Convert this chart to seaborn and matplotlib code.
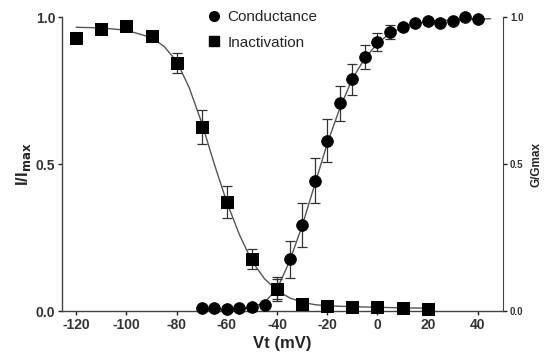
import matplotlib
matplotlib.use("Agg")
import matplotlib.pyplot as plt
import seaborn as sns
import pandas as pd
from matplotlib.lines import Line2D

# -----------------------------
# Data
# -----------------------------
inact_v = [-120, -110, -100, -90, -80, -70, -60, -50, -40, -30, -20, -10, 0, 10, 20]
inact_y = [0.93, 0.96, 0.97, 0.935, 0.843, 0.625, 0.372, 0.177, 0.075, 0.024, 0.017, 0.015, 0.013, 0.010, 0.008]
inact_err = [0, 0, 0, 0, 0.035, 0.058, 0.055, 0.033, 0.035, 0, 0, 0, 0, 0, 0]

cond_v = [-70, -65, -60, -55, -50, -45, -40, -35, -30, -25, -20, -15, -10, -5,
          0, 5, 10, 15, 20, 25, 30, 35, 40]
cond_y = [0.010, 0.012, 0.008, 0.010, 0.015, 0.020, 0.075, 0.177, 0.293, 0.444, 0.58,
          0.706, 0.788, 0.864, 0.915, 0.949, 0.966, 0.98, 0.986, 0.98, 0.986, 1.0, 0.993]
cond_err = [0, 0, 0, 0, 0, 0, 0.04, 0.063, 0.074, 0.075, 0.072, 0.06, 0.053, 0.041,
            0.032, 0.025, 0, 0, 0, 0, 0, 0, 0]

# fitted curves
inact_fit_v = [-120, -110, -100, -90, -85, -80, -75, -70, -65, -60, -55, -50, -45,
               -40, -35, -30, -25, -20, -10, 0, 10, 20]
inact_fit_y = [0.965, 0.963, 0.955, 0.93, 0.90, 0.85, 0.76, 0.64, 0.50, 0.37, 0.26,
               0.17, 0.11, 0.07, 0.045, 0.03, 0.022, 0.018, 0.015, 0.013, 0.011, 0.010]

cond_fit_v = [-70, -60, -55, -50, -45, -40, -35, -30, -25, -20, -15, -10, -5, 0, 5,
              10, 15, 20, 25, 30, 35, 40, 45]
cond_fit_y = [0.004, 0.005, 0.007, 0.012, 0.03, 0.075, 0.17, 0.29, 0.43, 0.57, 0.69,
              0.79, 0.86, 0.91, 0.945, 0.965, 0.977, 0.984, 0.988, 0.99, 0.992, 0.993, 0.994]

x_ticks = [-120, -100, -80, -60, -40, -20, 0, 20, 40]
y_ticks = [0.0, 0.5, 1.0]
y_ticklabels = ["0.0", "0.5", "1.0"]

# -----------------------------
# Plot
# -----------------------------
sns.set_style("ticks")
plt.rcParams["font.family"] = ["Liberation Sans", "DejaVu Sans"]
plt.rcParams["axes.unicode_minus"] = False

fig = plt.figure(figsize=(5.45, 3.58), dpi=100)
ax = fig.add_axes([0.114, 0.131, 0.809, 0.8215])

line_col = "#555555"
sns.lineplot(x=inact_fit_v, y=inact_fit_y, ax=ax, color=line_col, lw=1.0, sort=False)
sns.lineplot(x=cond_fit_v, y=cond_fit_y, ax=ax, color=line_col, lw=1.0, sort=False)

ax.errorbar(inact_v, inact_y, yerr=inact_err, fmt="none", ecolor="#333333",
            elinewidth=0.9, capsize=3.5, capthick=0.9, zorder=3)
ax.errorbar(cond_v, cond_y, yerr=cond_err, fmt="none", ecolor="#333333",
            elinewidth=0.9, capsize=3.5, capthick=0.9, zorder=3)

df_i = pd.DataFrame({"v": inact_v, "y": inact_y})
df_c = pd.DataFrame({"v": cond_v, "y": cond_y})
sns.scatterplot(data=df_i, x="v", y="y", ax=ax, marker="s", s=85, color="black",
                edgecolor="black", zorder=4, clip_on=False)
sns.scatterplot(data=df_c, x="v", y="y", ax=ax, marker="o", s=70, color="black",
                edgecolor="black", zorder=5, clip_on=False)

ax.set_xlim(-125.6, 50)
ax.set_ylim(0, 1.0)
ax.set_xticks(x_ticks)
ax.set_yticks(y_ticks)
ax.set_yticklabels(y_ticklabels)
ax.tick_params(axis="both", labelsize=10, length=3, width=1, colors="#222222", pad=2)
for lab in ax.get_xticklabels() + ax.get_yticklabels():
    lab.set_fontweight("bold")
    lab.set_color("#333333")
sns.despine(ax=ax, top=True, right=True)
for s in ["left", "bottom"]:
    ax.spines[s].set_color("#444444")
    ax.spines[s].set_linewidth(1.0)

ax.set_xlabel("Vt (mV)", fontsize=12, fontweight="bold", labelpad=3)
ax.set_ylabel(r"I/I$_{\mathbf{max}}$", fontsize=12, fontweight="bold", labelpad=2)

ax2 = ax.twinx()
ax2.set_ylim(0, 1.0)
ax2.set_yticks(y_ticks)
ax2.set_yticklabels(y_ticklabels)
ax2.tick_params(axis="y", labelsize=7, length=3, width=1, colors="#222222", pad=2)
for lab in ax2.get_yticklabels():
    lab.set_fontweight("bold")
    lab.set_color("#333333")
for s in ["top", "left", "bottom"]:
    ax2.spines[s].set_visible(False)
ax2.spines["right"].set_color("#444444")
ax2.set_ylabel("G/Gmax", fontsize=8.5, fontweight="bold", labelpad=5)

handles = [
    Line2D([], [], marker="o", color="black", linestyle="none", markersize=7),
    Line2D([], [], marker="s", color="black", linestyle="none", markersize=7),
]
ax.legend(handles, ["Conductance", "Inactivation"], loc="upper left",
          bbox_to_anchor=(0.295, 1.07), frameon=False, fontsize=11,
          handletextpad=0.4, labelspacing=0.75, handlelength=1.0)

fig.savefig("out.png", dpi=100)
